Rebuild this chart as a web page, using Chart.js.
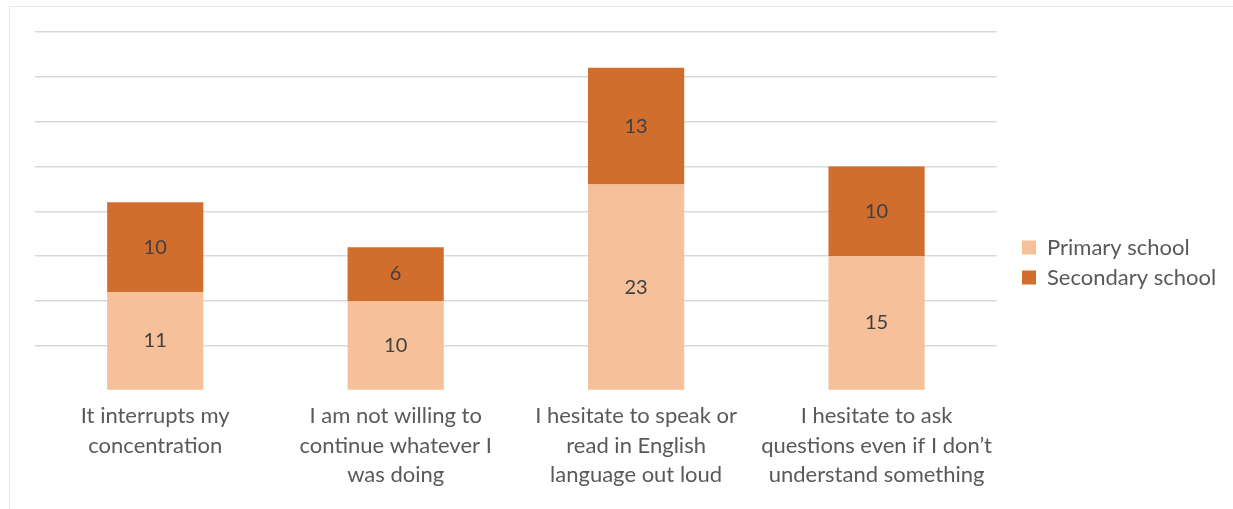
<!DOCTYPE html>
<html>
<head>
<meta charset="utf-8">
<script src="https://cdn.jsdelivr.net/npm/chart.js@4/dist/chart.umd.min.js"></script>
<style>
  html, body { margin: 0; padding: 0; background: #fff; }
  #frame { position: absolute; left: 9px; top: 6px; width: 1300px; height: 600px;
           border-left: 1px solid #e6e6e6; border-top: 1px solid #e6e6e6; }
  #wrap { position: absolute; left: 0; top: 0; width: 1233px; height: 509px; }
</style>
</head>
<body>
<div id="frame"></div>
<div id="wrap"><canvas id="chart" width="1233" height="509"></canvas></div>
<script>
// ================= DATA =================
const categories = [
  ["It interrupts my", "concentration"],
  ["I am not willing to", "continue whatever I", "was doing"],
  ["I hesitate to speak or", "read in English", "language out loud"],
  ["I hesitate to ask", "questions even if I don\u2019t", "understand something"]
];
const primary = [11, 10, 23, 15];
const secondary = [10, 6, 13, 10];
const seriesNames = ["Primary school", "Secondary school"];

const FONT = "Lato, 'Open Sans', sans-serif";

// ================= VALUE LABELS =================
const valueLabels = {
  id: "valueLabels",
  afterLayout(chart) {
    // keep a gap between plot and legend like the original
    const lg = chart.legend;
    const shift = 1022 - 8 - lg.left;
    lg.left += shift;
    lg.right += shift;
  },
  afterDatasetsDraw(chart) {
    const ctx = chart.ctx;
    ctx.save();
    ctx.font = "20px " + FONT;
    ctx.fillStyle = "#404040";
    ctx.textAlign = "center";
    ctx.textBaseline = "middle";
    chart.data.datasets.forEach((ds, i) => {
      chart.getDatasetMeta(i).data.forEach((bar, j) => {
        const mid = (bar.y + bar.base) / 2;
        ctx.fillText(ds.data[j], bar.x, mid);
      });
    });
    ctx.restore();
  }
};

// ================= CHART =================
new Chart(document.getElementById("chart"), {
  type: "bar",
  data: {
    labels: categories,
    datasets: [
      { label: seriesNames[0], data: primary, backgroundColor: "#F5C09A" },
      { label: seriesNames[1], data: secondary, backgroundColor: "#D16D2D" }
    ]
  },
  options: {
    responsive: false,
    animation: false,
    layout: { padding: { left: 35, top: 32, right: 24, bottom: 16 } },
    datasets: { bar: { categoryPercentage: 1, barPercentage: 0.4 } },
    plugins: {
      tooltip: { enabled: false },
      legend: {
        position: "right",
        labels: {
          font: { family: FONT, size: 22 },
          color: "#595959",
          boxWidth: 14,
          boxHeight: 14,
          padding: 8
        }
      }
    },
    scales: {
      x: {
        stacked: true,
        grid: { display: false },
        border: { display: false },
        ticks: {
          font: { family: FONT, size: 22, lineHeight: 1.34 },
          color: "#595959",
          padding: 3,
          maxRotation: 0
        }
      },
      y: {
        stacked: true,
        min: 0,
        max: 40,
        ticks: { stepSize: 5, display: false },
        border: { display: false },
        grid: {
          color: c => c.tick.value === 0 ? "rgba(0,0,0,0)" : "#d9d9d9",
          lineWidth: 1.5,
          drawTicks: false
        }
      }
    }
  },
  plugins: [valueLabels]
});
</script>
</body>
</html>
